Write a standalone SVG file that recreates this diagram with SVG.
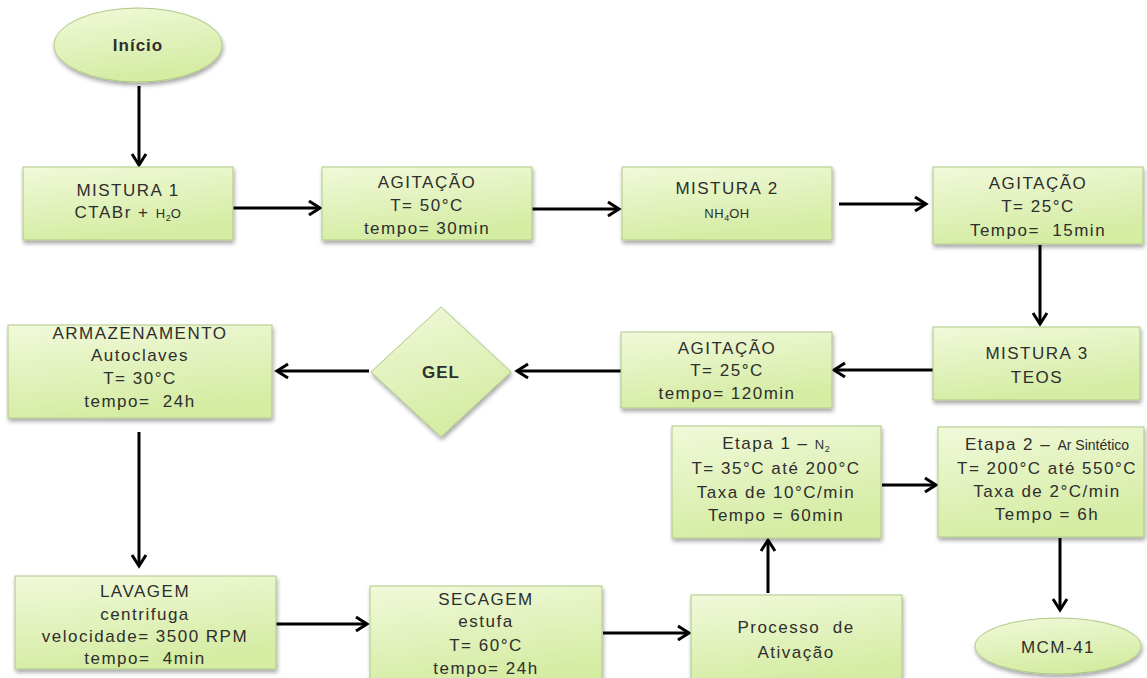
<svg xmlns="http://www.w3.org/2000/svg" width="1147" height="678" viewBox="0 0 1147 678">
<style>
  .box{fill:url(#g);stroke:#adc985;stroke-width:1;filter:url(#sh)}
  .t{font-family:"Liberation Sans",Arial,sans-serif;font-size:17px;letter-spacing:1.5px;fill:#2e2e2e;text-anchor:middle;white-space:pre}
  .b{font-weight:bold;letter-spacing:1px}
  .sm{font-size:13px;letter-spacing:0.6px}
  .su{font-size:9px;letter-spacing:0}
  .ar{font-family:"Liberation Sans Narrow","Liberation Sans",sans-serif;font-size:14px;letter-spacing:0}
  .c{stroke:#000;stroke-width:3;fill:none;marker-end:url(#ah)}
</style>
<defs>
  <linearGradient id="g" x1="0" y1="0" x2="0.3" y2="1">
    <stop offset="0" stop-color="#f1f9da"/>
    <stop offset="1" stop-color="#d5eca3"/>
  </linearGradient>
  <filter id="sh" x="-10%" y="-10%" width="125%" height="135%">
    <feGaussianBlur in="SourceAlpha" stdDeviation="2"/>
    <feOffset dx="1" dy="3" result="o"/>
    <feComponentTransfer><feFuncA type="linear" slope="0.35"/></feComponentTransfer>
    <feMerge><feMergeNode/><feMergeNode in="SourceGraphic"/></feMerge>
  </filter>
  <marker id="ah" markerUnits="userSpaceOnUse" markerWidth="18" markerHeight="18" viewBox="0 0 18 18" refX="15" refY="9" orient="auto">
    <path d="M4,2 L15,9 L4,16" stroke="#000" stroke-width="3" fill="none"/>
  </marker>
</defs>
<rect width="1147" height="678" fill="#fff"/>

<g id="connectors">
  <line class="c" x1="139" y1="86" x2="139" y2="165"/>
  <line class="c" x1="233" y1="208" x2="320" y2="208"/>
  <line class="c" x1="532" y1="209" x2="619" y2="209"/>
  <line class="c" x1="839" y1="204" x2="926" y2="204"/>
  <line class="c" x1="1040" y1="245" x2="1040" y2="324"/>
  <line class="c" x1="933" y1="370" x2="834" y2="370"/>
  <line class="c" x1="621" y1="371" x2="517" y2="371"/>
  <line class="c" x1="369" y1="371" x2="277" y2="371"/>
  <line class="c" x1="139" y1="432" x2="139" y2="566"/>
  <line class="c" x1="276" y1="624" x2="367" y2="624"/>
  <line class="c" x1="603" y1="633" x2="689" y2="633"/>
  <line class="c" x1="768" y1="593" x2="768" y2="540"/>
  <line class="c" x1="882" y1="485" x2="936" y2="485"/>
  <line class="c" x1="1060" y1="538" x2="1060" y2="610"/>
</g>

<g id="inicio">
  <ellipse class="box" cx="138" cy="45" rx="84" ry="37"/>
  <text class="t b" x="138" y="51" font-size="15">Início</text>
</g>

<g id="mistura1">
  <rect class="box" x="23" y="167" width="210" height="73"/>
  <text class="t" x="128" y="196">MISTURA 1</text>
  <text class="t" x="128" y="218">CTABr + <tspan class="sm">H</tspan><tspan class="su" dy="3">2</tspan><tspan class="sm" dy="-3">O</tspan></text>
</g>

<g id="agitacao1">
  <rect class="box" x="322" y="167" width="210" height="73"/>
  <text class="t" x="427" y="188">AGITAÇÃO</text>
  <text class="t" x="427" y="211">T= 50°C</text>
  <text class="t" x="427" y="234">tempo= 30min</text>
</g>

<g id="mistura2">
  <rect class="box" x="622" y="167" width="210" height="73"/>
  <text class="t" x="727" y="194">MISTURA 2</text>
  <text class="t sm" x="727" y="218">NH<tspan class="su" dy="3">4</tspan><tspan dy="-3">OH</tspan></text>
</g>

<g id="agitacao2">
  <rect class="box" x="933" y="167" width="210" height="77"/>
  <text class="t" x="1038" y="189">AGITAÇÃO</text>
  <text class="t" x="1038" y="212">T= 25°C</text>
  <text class="t" x="1038" y="236">Tempo=  15min</text>
</g>

<g id="mistura3">
  <rect class="box" x="933" y="327" width="207" height="73"/>
  <text class="t" x="1037" y="359">MISTURA 3</text>
  <text class="t" x="1037" y="383">TEOS</text>
</g>

<g id="agitacao3">
  <rect class="box" x="621" y="332" width="211" height="76"/>
  <text class="t" x="727" y="354">AGITAÇÃO</text>
  <text class="t" x="727" y="376">T= 25°C</text>
  <text class="t" x="727" y="399">tempo= 120min</text>
</g>

<g id="gel">
  <polygon class="box" points="441,307 511,372 441,437 371,372" stroke="#d2e6b0"/>
  <text class="t b" x="441" y="378">GEL</text>
</g>

<g id="armazenamento">
  <rect class="box" x="8" y="325" width="264" height="93"/>
  <text class="t" x="140" y="339">ARMAZENAMENTO</text>
  <text class="t" x="140" y="361">Autoclaves</text>
  <text class="t" x="140" y="384">T= 30°C</text>
  <text class="t" x="140" y="407">tempo=  24h</text>
</g>

<g id="lavagem">
  <rect class="box" x="15" y="576" width="261" height="93"/>
  <text class="t" x="145" y="597">LAVAGEM</text>
  <text class="t" x="145" y="620">centrifuga</text>
  <text class="t" x="145" y="642">velocidade= 3500 RPM</text>
  <text class="t" x="145" y="664">tempo=  4min</text>
</g>

<g id="secagem">
  <rect class="box" x="370" y="586" width="232" height="100"/>
  <text class="t" x="486" y="605">SECAGEM</text>
  <text class="t" x="486" y="627">estufa</text>
  <text class="t" x="486" y="651">T= 60°C</text>
  <text class="t" x="486" y="674">tempo= 24h</text>
</g>

<g id="processo">
  <rect class="box" x="691" y="595" width="211" height="90"/>
  <text class="t" x="796" y="633">Processo  de</text>
  <text class="t" x="796" y="658">Ativação</text>
</g>

<g id="etapa1">
  <rect class="box" x="672" y="426" width="209" height="112"/>
  <text class="t" x="776" y="449">Etapa 1 – <tspan class="sm">N</tspan><tspan class="su" dy="3">2</tspan></text>
  <text class="t" x="776" y="474">T= 35°C até 200°C</text>
  <text class="t" x="776" y="498">Taxa de 10°C/min</text>
  <text class="t" x="776" y="521">Tempo = 60min</text>
</g>

<g id="etapa2">
  <rect class="box" x="938" y="427" width="206" height="110"/>
  <text class="t" x="1047" y="450">Etapa 2 – <tspan class="ar">Ar Sintético</tspan></text>
  <text class="t" x="1047" y="474">T= 200°C até 550°C</text>
  <text class="t" x="1047" y="497">Taxa de 2°C/min</text>
  <text class="t" x="1047" y="520">Tempo = 6h</text>
</g>

<g id="mcm41">
  <ellipse class="box" cx="1058" cy="646" rx="83" ry="28"/>
  <text class="t" x="1058" y="653">MCM-41</text>
</g>
</svg>
